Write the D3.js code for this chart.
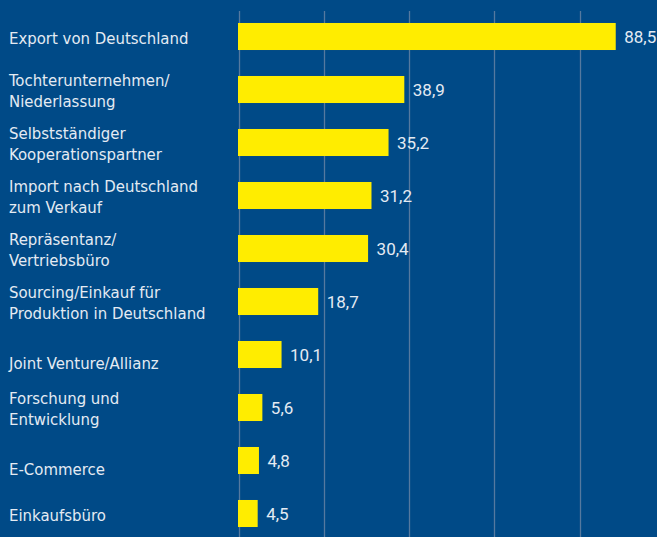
<!DOCTYPE html>
<html>
<head>
<meta charset="utf-8">
<script src="https://cdn.jsdelivr.net/npm/d3@7/dist/d3.min.js"></script>
<style>
  html, body { margin: 0; padding: 0; background: #004a87; }
  svg { display: block; }
</style>
</head>
<body>
<div id="chart"></div>
<script>
// ---- data ----
const categories = [
  ["Export von Deutschland"],
  ["Tochterunternehmen/", "Niederlassung"],
  ["Selbstständiger", "Kooperationspartner"],
  ["Import nach Deutschland", "zum Verkauf"],
  ["Repräsentanz/", "Vertriebsbüro"],
  ["Sourcing/Einkauf für", "Produktion in Deutschland"],
  ["", "Joint Venture/Allianz"],
  ["Forschung und", "Entwicklung"],
  ["", "E-Commerce"],
  ["Einkaufsbüro"]
];
const values = [88.5, 38.9, 35.2, 31.2, 30.4, 18.7, 10.1, 5.6, 4.8, 4.5];
const valueLabels = ["88,5", "38,9", "35,2", "31,2", "30,4", "18,7", "10,1", "5,6", "4,8", "4,5"];
const gridTicks = [0, 20, 40, 60, 80];

// ---- layout ----
const W = 657, H = 537;
const svg = d3.select("#chart").append("svg").attr("width", W).attr("height", H);
svg.append("rect").attr("width", W).attr("height", H).attr("fill", "#004a87");

const x = d3.scaleLinear().domain([0, 100]).range([238.5, 664.75]);
const y = d3.scaleBand().domain(d3.range(values.length)).range([10, 540])
  .paddingInner(0.49).paddingOuter(0.245);

// grid lines
svg.append("g").selectAll("line").data(gridTicks).join("line")
  .attr("x1", d => Math.round(x(d)) + 0.5).attr("x2", d => Math.round(x(d)) + 0.5)
  .attr("y1", 11).attr("y2", H)
  .attr("stroke", "#55799f").attr("stroke-width", 1.3);

// bars
svg.append("g").selectAll("rect").data(values).join("rect")
  .attr("x", x(0) - 0.5)
  .attr("y", (d, i) => y(i))
  .attr("width", d => x(d) - x(0) + 0.5)
  .attr("height", y.bandwidth())
  .attr("fill", "#ffed00");

// value labels
svg.append("g").selectAll("text").data(values).join("text")
  .attr("x", d => x(d) + 8.5)
  .attr("y", (d, i) => y(i) + y.bandwidth() / 2 + 1)
  .attr("dy", "0.35em")
  .attr("fill", "#e4ebf3")
  .style("font-family", "Roboto, 'DejaVu Sans', sans-serif")
  .style("font-size", "17px")
  .text((d, i) => valueLabels[i]);

// category labels
const fs = 16.6;
const lineH = 21;
const cat = svg.append("g").selectAll("text").data(categories).join("text")
  .attr("x", 9)
  .attr("fill", "#e4ebf3")
  .style("font-family", "'DejaVu Sans Condensed', 'DejaVu Sans', sans-serif")
  .style("font-stretch", "condensed")
  .style("font-size", fs + "px")
  .attr("y", (d, i) => y(i) + y.bandwidth() / 2 + 1.5);
cat.each(function(lines, i) {
  const t = d3.select(this);
  const n = lines.length;
  const shift = lines[0] === "" ? -3 : 0;
  lines.forEach((ln, k) => {
    t.append("tspan")
      .attr("x", 9)
      .attr("dy", k === 0 ? (((-(n - 1) / 2) * lineH + shift) / fs + 0.35) + "em" : (lineH / fs) + "em")
      .text(ln === "" ? "\u00a0" : ln);
  });
});
</script>
</body>
</html>
